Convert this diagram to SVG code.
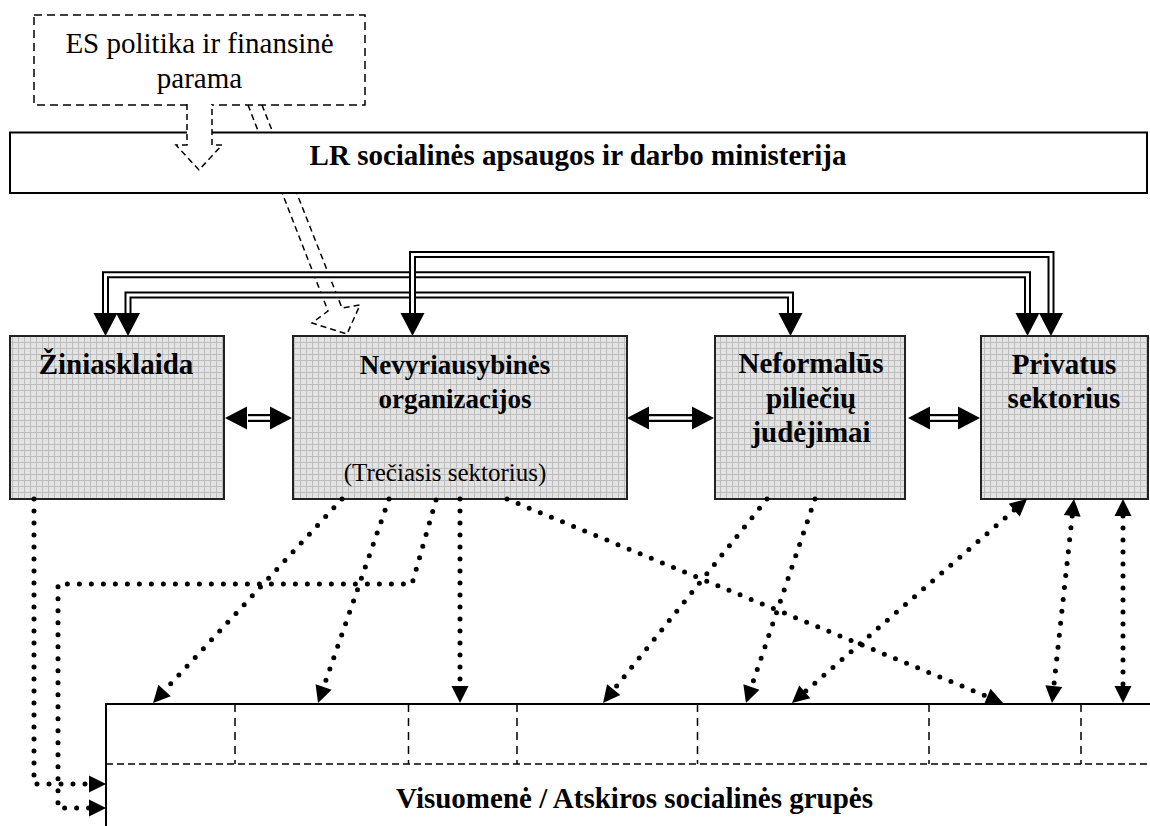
<svg xmlns="http://www.w3.org/2000/svg" width="1150" height="826" viewBox="0 0 1150 826">
<style>
  .t { font-family: "Liberation Serif", "Times New Roman", serif; fill: #000; text-anchor: middle; }
  .b { font-weight: bold; font-size: 29px; }
  .r { font-size: 29px; }
  .box { fill: url(#grid); stroke: #222; stroke-width: 2; }
  .dash { fill: none; stroke: #000; stroke-width: 1.5; stroke-dasharray: 8 5; }
  .dashw { fill: #fff; stroke: #000; stroke-width: 1.5; stroke-dasharray: 6 4; }
  .dbl-o { fill: none; stroke: #000; stroke-width: 7; stroke-linejoin: miter; }
  .dbl-i { fill: none; stroke: #fff; stroke-width: 3; stroke-linejoin: miter; }
  .hd-o { fill: none; stroke: #000; stroke-width: 8; }
  .hd-i { fill: none; stroke: #fff; stroke-width: 3.6; }
  .head { fill: #000; }
  .dot { fill: none; stroke: #000; stroke-width: 5; stroke-linecap: round; stroke-dasharray: 0 12; }
  .solid { fill: none; stroke: #000; stroke-width: 2; }
  .hdash { fill: none; stroke: #000; stroke-width: 1.5; stroke-dasharray: 7 4; }
  .vdash { fill: none; stroke: #000; stroke-width: 1.5; stroke-dasharray: 8 6; }
</style>
<defs>
  <pattern id="grid" width="6" height="6" patternUnits="userSpaceOnUse">
    <rect width="6" height="6" fill="#e3e3e3"/>
    <path d="M0,0.5H6M0.5,0V6" stroke="#bdbdbd" stroke-width="1"/>
  </pattern>
  <marker id="ah" viewBox="0 -10 20 20" refX="0" refY="0" markerWidth="20" markerHeight="20" markerUnits="userSpaceOnUse" orient="auto-start-reverse" overflow="visible">
    <path d="M0,-8.5 L17,0 L0,8.5 Z" fill="#000"/>
  </marker>
  <path id="cA" d="M105.5,313 V274.8 H1027.5 V313"/>
  <path id="cB" d="M128,313 V295 H790.5 V313"/>
  <path id="cC" d="M412.5,313 V254.5 H1051 V313"/>
</defs>

<rect width="1150" height="826" fill="#fff"/>

<g id="connectors">
  <path class="dash" style="stroke-dasharray:6 4" d="M248,105 L328,311 L312,323 L347,334 L360,305 L342,308 L262,105"/>
</g>

<g id="es">
  <rect class="dash" x="34" y="15" width="331" height="90"/>
  <text class="t r" x="199.5" y="53">ES politika ir finansinė</text>
  <text class="t r" x="199.5" y="88">parama</text>
</g>

<g id="ministerija">
  <rect x="10" y="132.5" width="1137" height="60.5" fill="#fff" stroke="#000" stroke-width="2"/>
  <text class="t b" x="578" y="165">LR socialinės apsaugos ir darbo ministerija</text>
</g>

<g id="connectors-top">
  <path class="dashw" d="M187,104 V145 H176 L199,170 L222,145 H212 V104"/>
  <use href="#cA" class="dbl-o"/><use href="#cA" class="dbl-i"/>
  <use href="#cB" class="dbl-o"/><use href="#cB" class="dbl-i"/>
  <use href="#cC" class="dbl-o"/><use href="#cC" class="dbl-i"/>
  <polygon class="head" points="93.5,313 117.5,313 105.5,336"/>
  <polygon class="head" points="116,313 140,313 128,336"/>
  <polygon class="head" points="400.5,313 424.5,313 412.5,336"/>
  <polygon class="head" points="778.5,313 802.5,313 790.5,336"/>
  <polygon class="head" points="1015.5,313 1039.5,313 1027.5,336"/>
  <polygon class="head" points="1039,313 1063,313 1051,336"/>
</g>

<g id="ziniasklaida">
  <rect class="box" x="10" y="336" width="214" height="163"/>
  <text class="t b" x="116" y="374">Žiniasklaida</text>
</g>
<g id="nvo">
  <rect class="box" x="293" y="336" width="334" height="163"/>
  <text class="t b" x="455" y="374" style="font-size:27px">Nevyriausybinės</text>
  <text class="t b" x="455" y="408" style="font-size:27px">organizacijos</text>
  <text class="t r" x="445" y="481" style="font-size:25px">(Trečiasis sektorius)</text>
</g>
<g id="neformalus">
  <rect class="box" x="715" y="336" width="190" height="163"/>
  <text class="t b" x="811" y="373">Neformalūs</text>
  <text class="t b" x="811" y="408">piliečių</text>
  <text class="t b" x="811" y="442">judėjimai</text>
</g>
<g id="privatus">
  <rect class="box" x="981" y="336" width="167" height="163"/>
  <text class="t b" x="1064" y="374">Privatus</text>
  <text class="t b" x="1064" y="408">sektorius</text>
</g>

<g id="connectors-horizontal">
  <path class="hd-o" d="M248,418 H271"/><path class="hd-i" d="M248,418 H271"/>
  <polygon class="head" points="225,418 247,406.5 247,429.5"/>
  <polygon class="head" points="292,418 270,406.5 270,429.5"/>
  <path class="hd-o" d="M647,418 H694"/><path class="hd-i" d="M647,418 H694"/>
  <polygon class="head" points="627,418 649,406.5 649,429.5"/>
  <polygon class="head" points="714,418 692,406.5 692,429.5"/>
  <path class="hd-o" d="M928,418 H960"/><path class="hd-i" d="M928,418 H960"/>
  <polygon class="head" points="908,418 930,406.5 930,429.5"/>
  <polygon class="head" points="980,418 958,406.5 958,429.5"/>
</g>

<g id="connectors-dotted">
  <path class="dot" d="M34,499 V784 H89" marker-end="url(#ah)"/>
  <path class="dot" d="M436,500 L412,584 H58 V808 H89" marker-end="url(#ah)"/>
  <path class="dot" d="M342,499 L164.6,690.5" marker-end="url(#ah)"/>
  <path class="dot" d="M389,499 L323.6,687" marker-end="url(#ah)"/>
  <path class="dot" d="M460,499 V686" marker-end="url(#ah)"/>
  <path class="dot" d="M507,499 L987.3,696.5" marker-end="url(#ah)"/>
  <path class="dot" d="M767,499 L613.7,689.7" marker-end="url(#ah)"/>
  <path class="dot" d="M815,499 L751.4,686.9" marker-end="url(#ah)"/>
  <path class="dot" d="M1014.2,510.1 L804.8,691.9" marker-start="url(#ah)" marker-end="url(#ah)"/>
  <path class="dot" d="M1072.2,515.9 L1053.8,686.1" marker-start="url(#ah)" marker-end="url(#ah)"/>
  <path class="dot" d="M1123,516 V686" marker-start="url(#ah)" marker-end="url(#ah)"/>
</g>

<g id="visuomene">
  <path class="hdash" d="M106,764 H1150"/>
  <path class="vdash" d="M235,704 V764 M408.5,704 V764 M517,704 V764 M697.5,704 V764 M929,704 V764 M1081,704 V764"/>
  <path class="solid" d="M106,826 V704 H1150"/>
  <text class="t b" x="634.5" y="808">Visuomenė / Atskiros socialinės grupės</text>
</g>
</svg>
